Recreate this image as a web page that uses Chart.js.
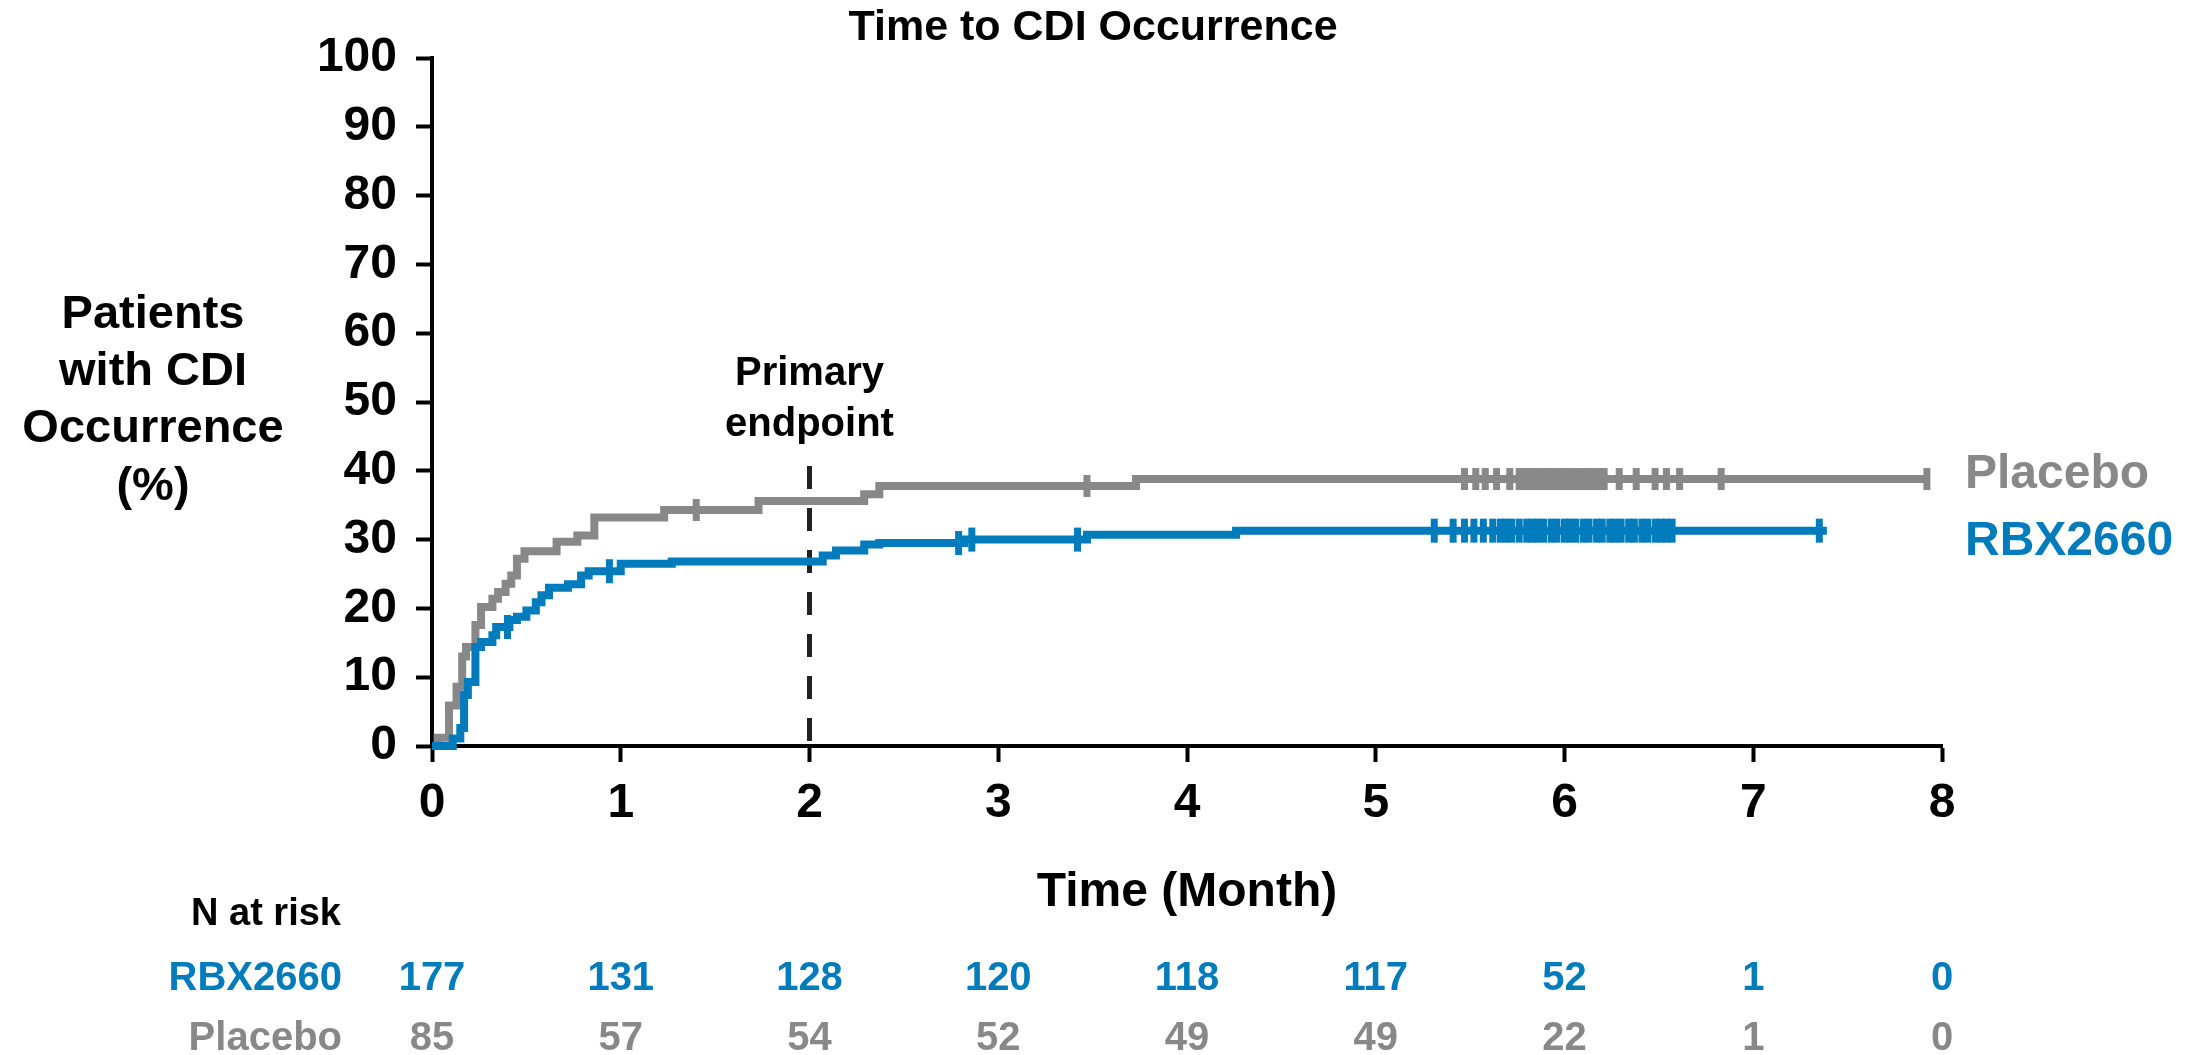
<!DOCTYPE html>
<html><head><meta charset="utf-8">
<script src="https://cdn.jsdelivr.net/npm/chart.js@4/dist/chart.umd.min.js"></script>
<style>html,body{margin:0;padding:0;background:#fff;} canvas{display:block}</style>
</head><body>
<canvas id="c" width="2187" height="1055"></canvas>
<script>
// ---------------- data ----------------
const chartTitle = 'Time to CDI Occurrence';
const yTitleLines = ['Patients', 'with CDI', 'Occurrence', '(%)'];
const xTitle = 'Time (Month)';
const endpointLines = ['Primary', 'endpoint'];
const seriesNames = ['Placebo', 'RBX2660'];

const xTickValues = [0, 1, 2, 3, 4, 5, 6, 7, 8];
const yTickValues = [0, 10, 20, 30, 40, 50, 60, 70, 80, 90, 100];

// Kaplan-Meier step points (month, cumulative % with CDI occurrence)
const placeboTime = [0, 0.03, 0.09, 0.13, 0.16, 0.18, 0.23, 0.26, 0.32, 0.35, 0.39, 0.42, 0.45, 0.49, 0.66, 0.77, 0.86, 1.23, 1.73, 2.29, 2.37, 3.73, 7.92];
const placeboPct  = [0, 1.2, 5.9, 8.6, 13.0, 14.4, 17.6, 20.2, 21.4, 22.4, 23.6, 24.8, 27.2, 28.3, 29.7, 30.6, 33.2, 34.3, 35.6, 36.6, 37.8, 38.8, 38.8];

const rbxTime = [0, 0.11, 0.15, 0.17, 0.19, 0.23, 0.26, 0.32, 0.34, 0.41, 0.45, 0.50, 0.55, 0.58, 0.62, 0.72, 0.79, 0.83, 1.00, 1.27, 2.07, 2.14, 2.29, 2.37, 2.82, 3.47, 4.26, 7.39];
const rbxPct  = [0, 1.1, 2.6, 7.4, 9.3, 14.4, 15.1, 16.1, 17.3, 18.3, 18.8, 19.7, 20.9, 21.9, 23.0, 23.5, 24.8, 25.4, 26.5, 26.8, 27.7, 28.4, 29.3, 29.5, 30.0, 30.7, 31.3, 31.3];

// censored observations (month)
const placeboCensor = [1.40, 3.47, 5.47, 5.53, 5.58, 5.64, 5.71, 5.76, 5.79, 5.82, 5.85, 5.88, 5.91, 5.94, 5.97, 6.00, 6.03, 6.06, 6.09, 6.12, 6.15, 6.18, 6.21, 6.29, 6.38, 6.48, 6.54, 6.61, 6.83, 7.92];
const rbxCensor = [0.40, 0.94, 2.79, 2.86, 3.42, 5.31, 5.41, 5.47, 5.52, 5.57, 5.62, 5.66, 5.69, 5.72, 5.76, 5.80, 5.83, 5.86, 5.89, 5.93, 5.96, 6.00, 6.03, 6.06, 6.10, 6.13, 6.17, 6.20, 6.24, 6.27, 6.30, 6.34, 6.37, 6.41, 6.44, 6.48, 6.51, 6.54, 6.57, 7.35];

// primary endpoint marker
const endpointMonth = 2;
const endpointTopPct = 40.7;

// number at risk
const riskMonths = [0, 1, 2, 3, 4, 5, 6, 7, 8];
const riskRbx = [177, 131, 128, 120, 118, 117, 52, 1, 0];
const riskPlacebo = [85, 57, 54, 52, 49, 49, 22, 1, 0];
const riskHeader = 'N at risk';

// ---------------- styling ----------------
const FONT = "'Liberation Sans', Arial, Helvetica, sans-serif";
const GRAY = '#888888';
const BLUE = '#007BBB';
const BLACK = '#000000';

function levelAt(times, pcts, t) {
  let v = pcts[0];
  for (let i = 0; i < times.length; i++) if (times[i] <= t) v = pcts[i];
  return v;
}
const toPts = (ts, ps) => ts.map((t, i) => ({x: t, y: ps[i]}));
const censorPts = (cs, ts, ps) => cs.map(t => ({x: t, y: levelAt(ts, ps, t)}));

const textPlugin = {
  id: 'texts',
  afterDraw(chart) {
    const ctx = chart.ctx;
    const xs = chart.scales.x;
    const t = (s, x, y, size, color, align) => {
      ctx.save();
      ctx.font = `bold ${size}px ${FONT}`;
      ctx.fillStyle = color;
      ctx.textAlign = align;
      ctx.textBaseline = 'alphabetic';
      ctx.fillText(s, x, y);
      ctx.restore();
    };
    // title
    t(chartTitle, 1093, 40, 43, BLACK, 'center');
    // y title
    const yBase = [328, 385, 442, 500];
    yTitleLines.forEach((s, i) => t(s, 153, yBase[i], 47, BLACK, 'center'));
    // x title
    t(xTitle, (chart.chartArea.left + chart.chartArea.right) / 2, 906, 48, BLACK, 'center');
    // primary endpoint
    const ex = xs.getPixelForValue(endpointMonth);
    t(endpointLines[0], ex, 385, 40, BLACK, 'center');
    t(endpointLines[1], ex, 436, 40, BLACK, 'center');
    // series labels
    t(seriesNames[0], 1965, 488, 48, GRAY, 'left');
    t(seriesNames[1], 1965, 555, 48, BLUE, 'left');
    // at-risk table
    t(riskHeader, 266, 925, 38, BLACK, 'center');
    t(seriesNames[1], 342, 990, 40, BLUE, 'right');
    t(seriesNames[0], 342, 1050, 40, GRAY, 'right');
    riskMonths.forEach((m, i) => {
      const px = xs.getPixelForValue(m);
      t(String(riskRbx[i]), px, 990, 40, BLUE, 'center');
      t(String(riskPlacebo[i]), px, 1050, 40, GRAY, 'center');
    });
  }
};

new Chart(document.getElementById('c'), {
  type: 'line',
  data: {
    datasets: [
      {
        label: seriesNames[1] + ' censored',
        data: censorPts(rbxCensor, rbxTime, rbxPct),
        showLine: false,
        pointStyle: 'line', pointRotation: 90, pointRadius: 12,
        pointBorderWidth: 7, pointBorderColor: BLUE, borderColor: BLUE,
        clip: false
      },
      {
        label: seriesNames[1],
        data: toPts(rbxTime, rbxPct),
        stepped: 'before', borderColor: BLUE, borderWidth: 8,
        pointRadius: 0, fill: false, clip: false, borderCapStyle: 'butt', borderJoinStyle: 'miter'
      },
      {
        label: seriesNames[0] + ' censored',
        data: censorPts(placeboCensor, placeboTime, placeboPct),
        showLine: false,
        pointStyle: 'line', pointRotation: 90, pointRadius: 11,
        pointBorderWidth: 7, pointBorderColor: GRAY, borderColor: GRAY,
        clip: false
      },
      {
        label: seriesNames[0],
        data: toPts(placeboTime, placeboPct),
        stepped: 'before', borderColor: GRAY, borderWidth: 8,
        pointRadius: 0, fill: false, clip: false, borderCapStyle: 'butt', borderJoinStyle: 'miter'
      },
      {
        label: 'Primary endpoint',
        data: [{x: endpointMonth, y: endpointTopPct}, {x: endpointMonth, y: 0}],
        borderColor: '#222222', borderWidth: 5, borderDash: [23, 19],
        pointRadius: 0, fill: false, clip: false
      }
    ]
  },
  options: {
    responsive: false,
    animation: false,
    devicePixelRatio: 1,
    layout: {padding: {left: 0, right: 245, top: 58, bottom: 0}},
    plugins: {legend: {display: false}, tooltip: {enabled: false}, title: {display: false}},
    scales: {
      x: {
        type: 'linear', min: 0, max: 8,
        afterBuildTicks: s => { s.ticks = xTickValues.map(v => ({value: v})); },
        afterFit: s => { s.height = 309; },
        border: {display: true, color: BLACK, width: 4},
        grid: {drawOnChartArea: false, drawTicks: true, tickLength: 16, tickWidth: 4, tickColor: BLACK},
        ticks: {autoSkip: false, maxRotation: 0, padding: 13, color: BLACK, font: {family: FONT, size: 48, weight: 'bold'}}
      },
      y: {
        type: 'linear', min: 0, max: 100,
        afterBuildTicks: s => { s.ticks = yTickValues.map(v => ({value: v})); },
        afterFit: s => { s.width = 432; },
        border: {display: true, color: BLACK, width: 4},
        grid: {drawOnChartArea: false, drawTicks: true, tickLength: 16, tickWidth: 4, tickColor: BLACK},
        ticks: {padding: 19, color: BLACK, font: {family: FONT, size: 48, weight: 'bold'}}
      }
    }
  },
  plugins: [textPlugin]
});
</script>
</body></html>
